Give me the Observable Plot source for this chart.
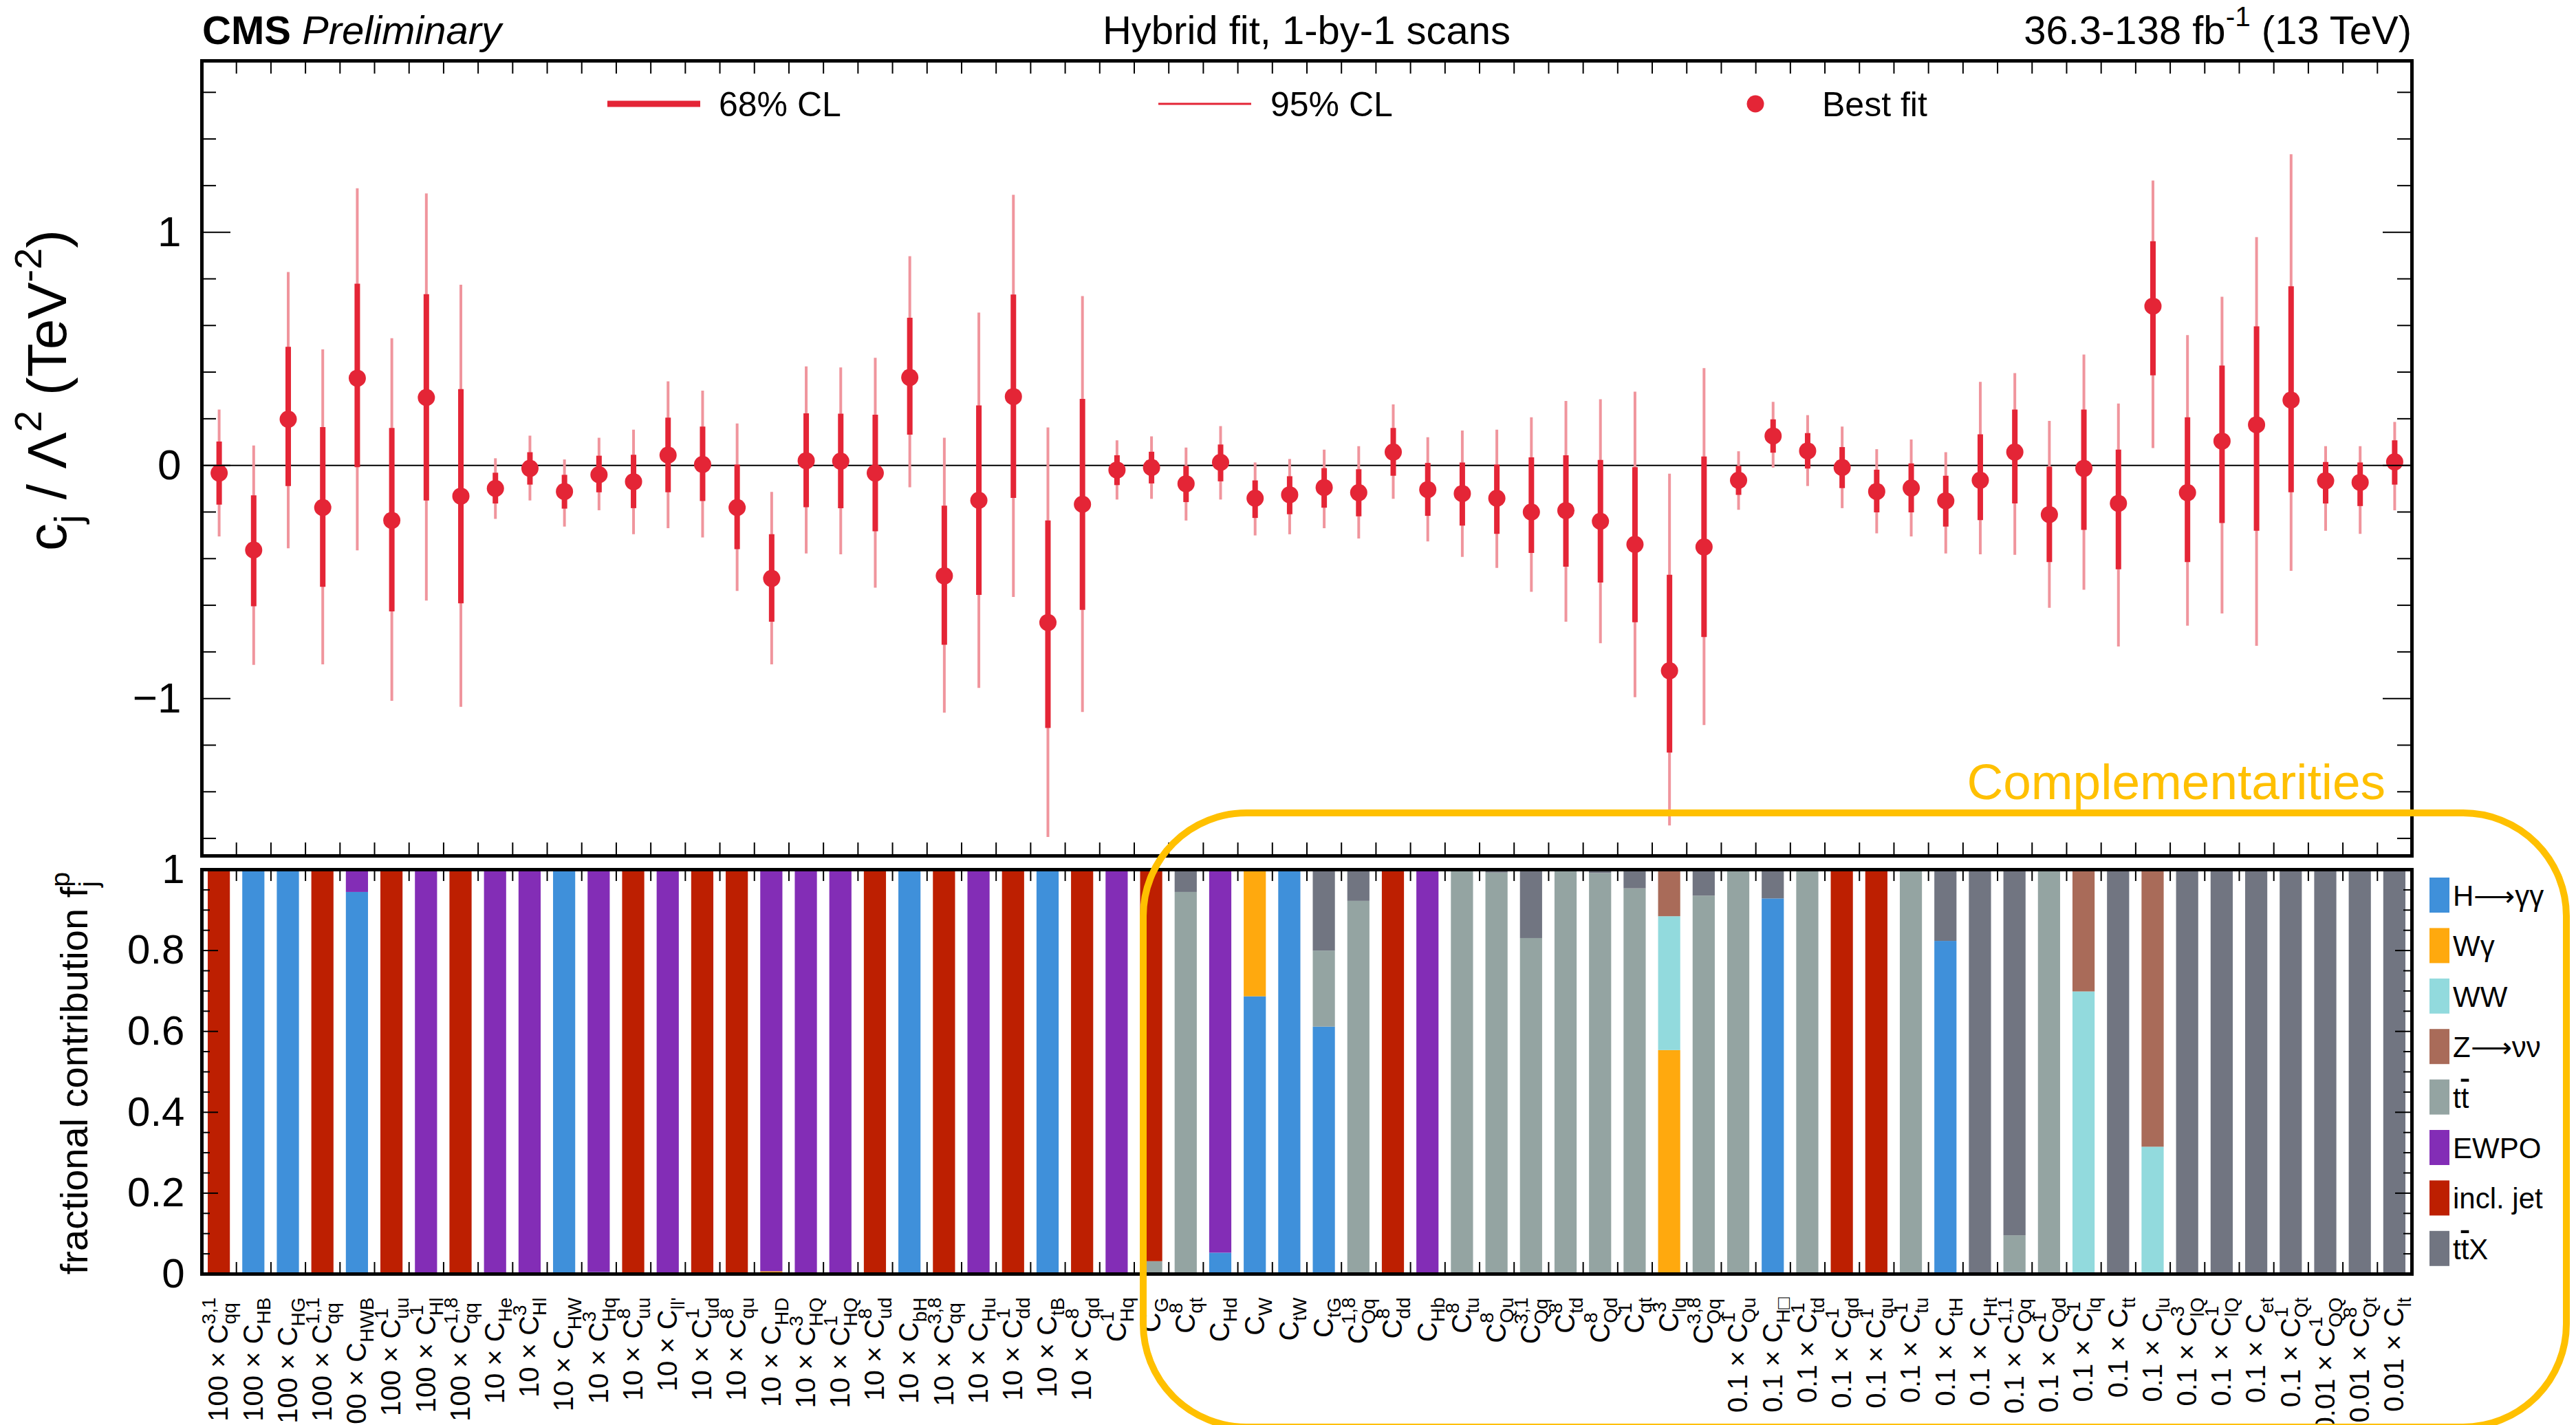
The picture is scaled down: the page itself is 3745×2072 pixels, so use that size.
<!DOCTYPE html>
<html>
<head>
<meta charset="utf-8">
<script src="https://cdn.jsdelivr.net/npm/d3@7"></script>
<script src="https://cdn.jsdelivr.net/npm/@observablehq/plot@0.6"></script>
<style>
  body { margin: 0; background: #fff; }
  #fig { position: relative; width: 3745px; height: 2072px; overflow: hidden; background: #fff; }
  #fig > svg { position: absolute; left: 0; }
</style>
</head>
<body>
<div id="fig"></div>
<script>
// ---- Wilson coefficients (x categories) ----
const scales = ["100","100","100","100","100","100","100","100",
  "10","10","10","10","10","10","10","10","10","10","10","10","10","10","10","10","10","10",
  "","","","","","","","","","","","","","","","","","",
  "0.1","0.1","0.1","0.1","0.1","0.1","0.1","0.1","0.1","0.1","0.1","0.1","0.1","0.1","0.1","0.1","0.1",
  "0.01","0.01","0.01"];
const subs = ["qq","HB","HG","qq","HWB","uu","Hl","qq","He","Hl","HW","Hq","uu","ll'","ud","qu",
  "HD","HQ","HQ","ud","bH","qq","Hu","dd","tB","qd","Hq","G","qt","Hd","W","tW",
  "tG","Qq","dd","Hb","tu","Qu","Qq","td","Qd","qt","lq","Qq","Qu","H\u25A1","td","qd",
  "qu","tu","tH","Ht","Qq","Qd","lq","tt","lu","lQ","lQ","et","Qt","QQ","Qt","lt"];
const sups = ["3,1","","","1,1","","1","1","1,8","","3","","3","8","","1","8",
  "","3","1","8","","3,8","","1","","8","1","","8","","","",
  "","1,8","8","","8","8","3,1","8","8","1","3","3,8","1","","1","1",
  "1","1","","","1,1","1","1","","","3","1","","1","1","8",""];

// ---- best fit and confidence intervals (TeV^-2, scaled) ----
const bestFit = [-0.033,-0.363,0.198,-0.181,0.374,-0.236,0.291,-0.132,-0.099,-0.013,-0.112,-0.040,-0.070,0.044,0.004,-0.181,
  -0.485,0.020,0.018,-0.033,0.377,-0.474,-0.150,0.295,-0.674,-0.167,-0.020,-0.009,-0.079,0.013,-0.141,-0.126,
  -0.095,-0.117,0.057,-0.104,-0.121,-0.141,-0.200,-0.194,-0.240,-0.339,-0.881,-0.350,-0.064,0.126,0.062,-0.009,
  -0.112,-0.097,-0.152,-0.064,0.057,-0.211,-0.013,-0.163,0.683,-0.117,0.104,0.174,0.280,-0.066,-0.073,0.015];
const hi68 = [0.101,-0.130,0.507,0.163,0.778,0.159,0.733,0.326,-0.033,0.055,-0.042,0.040,0.044,0.203,0.165,0.002,
  -0.297,0.222,0.220,0.216,0.632,-0.174,0.256,0.731,-0.238,0.284,0.042,0.057,-0.004,0.088,-0.066,-0.048,
  -0.013,-0.018,0.159,0.009,0.011,0.002,0.033,0.042,0.022,-0.009,-0.471,0.037,-0.004,0.196,0.137,0.077,
  -0.020,0.007,-0.046,0.132,0.238,-0.007,0.238,0.066,0.960,0.205,0.427,0.595,0.767,0.013,0.011,0.106];
const lo68 = [-0.170,-0.606,-0.090,-0.522,-0.009,-0.628,-0.152,-0.593,-0.165,-0.084,-0.187,-0.117,-0.185,-0.117,-0.154,-0.361,
  -0.672,-0.181,-0.185,-0.284,0.130,-0.771,-0.557,-0.141,-1.128,-0.621,-0.086,-0.079,-0.159,-0.070,-0.227,-0.211,
  -0.183,-0.220,-0.046,-0.218,-0.260,-0.295,-0.377,-0.436,-0.504,-0.674,-1.233,-0.738,-0.128,0.053,-0.015,-0.099,
  -0.203,-0.203,-0.264,-0.236,-0.165,-0.416,-0.278,-0.447,0.385,-0.416,-0.249,-0.282,-0.117,-0.165,-0.176,-0.084];
const hi95 = [0.238,0.084,0.828,0.496,1.187,0.544,1.165,0.773,0.029,0.126,0.024,0.117,0.152,0.359,0.319,0.178,
  -0.115,0.423,0.419,0.460,0.896,0.117,0.654,1.159,0.161,0.725,0.106,0.123,0.075,0.167,0.011,0.026,
  0.066,0.081,0.260,0.119,0.148,0.152,0.205,0.275,0.282,0.315,-0.037,0.416,0.059,0.271,0.214,0.165,
  0.068,0.110,0.055,0.357,0.394,0.189,0.474,0.264,1.220,0.557,0.722,0.978,1.333,0.081,0.081,0.185];
const lo95 = [-0.306,-0.857,-0.357,-0.855,-0.366,-1.011,-0.581,-1.037,-0.231,-0.152,-0.264,-0.194,-0.297,-0.271,-0.311,-0.540,
  -0.855,-0.379,-0.383,-0.526,-0.095,-1.062,-0.956,-0.566,-1.595,-1.059,-0.148,-0.145,-0.238,-0.148,-0.302,-0.297,
  -0.271,-0.315,-0.145,-0.328,-0.394,-0.441,-0.544,-0.672,-0.764,-0.996,-1.546,-1.115,-0.192,-0.011,-0.090,-0.185,
  -0.293,-0.306,-0.379,-0.383,-0.385,-0.612,-0.535,-0.778,0.073,-0.689,-0.637,-0.775,-0.454,-0.282,-0.295,-0.194];

// ---- fractional contribution of each measurement ----
const processes = ["H\u2192\u03b3\u03b3","W\u03b3","WW","Z\u2192\u03bd\u03bd","tt\u0304","EWPO","incl. jet","tt\u0304X"];
const processColors = ["#3f90da","#ffa90e","#92dadd","#a96b59","#94a4a2","#832db6","#bd1f01","#717581"];
const fHgg = [0,1,1,0,0.944,0,0,0,0,0,1,0.004,0,0,0,0,
  0,0,0,0,1,0,0,0,1,0,0,0,0,0.052,0.686,1,
  0.611,0,0,0,0,0,0,0,0,0,0,0,0,0.928,0,0,
  0,0.002,0.823,0,0.004,0,0,0,0,0,0,0,0,0,0,0];
const fWg = [0,0,0,0,0,0,0,0,0,0.003,0,0,0,0,0,0,
  0.006,0,0,0,0,0,0,0,0,0,0,0,0,0,0.314,0,
  0,0,0,0,0,0,0,0,0,0,0.553,0,0,0,0,0,
  0,0,0,0,0,0,0,0,0,0,0,0,0,0,0,0];
const fWW = [0,0,0,0,0,0,0,0,0,0,0,0,0,0,0,0,
  0,0,0,0,0,0,0,0,0,0,0,0,0,0,0,0,
  0,0,0,0,0,0,0,0,0,0,0.331,0,0,0,0,0,
  0,0,0,0,0,0,0.698,0,0.314,0,0,0,0,0,0,0];
const fZnn = [0,0,0,0,0,0,0,0,0,0,0,0,0,0,0,0,
  0,0,0,0,0,0,0,0,0,0,0,0,0,0,0,0,
  0,0,0,0,0,0,0,0,0,0,0.116,0,0,0,0,0,
  0,0,0,0,0,0,0.302,0,0.686,0,0,0,0,0,0,0];
const fTT = [0,0,0,0,0,0,0,0,0,0,0,0,0,0,0,0,
  0,0,0,0,0,0,0,0,0,0,0,0.031,0.944,0,0,0,
  0.188,0.922,0,0,1,0.992,0.830,1,0.991,0.953,0,0.935,0.995,0,1,0,
  0,0.998,0,0,0.091,1,0,0,0,0,0,0,0,0,0,0];
const fEWPO = [0,0,0,0,0.056,0,1,0,1,0.997,0,0.996,0,1,0,0,
  0.994,1,1,0,0,0,1,0,0,0,1,0,0,0.948,0,0,
  0,0,0,1,0,0,0,0,0,0,0,0,0,0,0,0,
  0,0,0,0,0,0,0,0,0,0,0,0,0,0,0,0];
const fJet = [1,0,0,1,0,1,0,1,0,0,0,0,1,0,1,1,
  0,0,0,1,0,1,0,1,0,1,0,0.969,0,0,0,0,
  0,0,1,0,0,0,0,0,0,0,0,0,0,0,0,1,
  1,0,0,0,0,0,0,0,0,0,0,0,0,0,0,0];
const fTTX = [0,0,0,0,0,0,0,0,0,0,0,0,0,0,0,0,
  0,0,0,0,0,0,0,0,0,0,0,0,0.056,0,0,0,
  0.201,0.078,0,0,0,0.008,0.170,0,0.009,0.047,0,0.065,0.005,0.072,0,0,
  0,0,0.177,1,0.905,0,0,1,0,1,1,1,1,1,1,1];
const fractions = [fHgg, fWg, fWW, fZnn, fTT, fEWPO, fJet, fTTX];

// ---- layout ----
const W = 3745, H = 2072;
const FONT = '"Liberation Sans", Arial, Helvetica, sans-serif';
const RED = "#e42536", PINK = "#f0959d", GOLD = "#ffc000";
const N = subs.length;
const mL = 293, mR = 239;
const pxX = (W - mL - mR) / N;

const topH = 1250, topMT = 88, topMB = 6;
const Y0 = -1.675, Y1 = 1.735;
const pxYTop = (topH - topMT - topMB) / (Y1 - Y0);

const botTop = 1250, botH = 822, botMT = 14, botMB = 220;
const pxYBot = botH - botMT - botMB;

const rows = d3.range(N).map(i => ({
  x: i + 0.5, v: bestFit[i], lo68: lo68[i], hi68: hi68[i], lo95: lo95[i], hi95: hi95[i]
}));
const boundaries = d3.range(1, N);
const topYTicks = d3.range(-8, 9).map(k => k / 5);
const isInt = d => Math.abs(d - Math.round(d)) < 1e-9;

// ---- upper panel: best fit with 68% / 95% intervals ----
const topChart = Plot.plot({
  width: W, height: topH,
  marginTop: topMT, marginBottom: topMB, marginLeft: mL, marginRight: mR,
  style: {fontFamily: FONT, background: "transparent", overflow: "visible", color: "#000"},
  x: {domain: [0, N], axis: null},
  y: {domain: [Y0, Y1]},
  marks: [
    Plot.ruleY([0], {stroke: "#000", strokeWidth: 2}),
    Plot.ruleX(rows, {x: "x", y1: "lo95", y2: "hi95", stroke: PINK, strokeWidth: 4}),
    Plot.ruleX(rows, {x: "x", y1: "lo68", y2: "hi68", stroke: RED, strokeWidth: 8}),
    Plot.dot(rows, {x: "x", y: "v", r: 12.5, fill: RED}),
    Plot.ruleX(boundaries, {y1: Y1, y2: Y1 - 19 / pxYTop, stroke: "#000", strokeWidth: 2}),
    Plot.ruleX(boundaries, {y1: Y0, y2: Y0 + 19 / pxYTop, stroke: "#000", strokeWidth: 2}),
    Plot.ruleY(topYTicks, {x1: 0, x2: d => (isInt(d) ? 42 : 21) / pxX, stroke: "#000", strokeWidth: 2}),
    Plot.ruleY(topYTicks, {x1: N, x2: d => N - (isInt(d) ? 42 : 21) / pxX, stroke: "#000", strokeWidth: 2}),
    Plot.axisY({ticks: [-1, 0, 1], tickSize: 0, tickPadding: 30, fontSize: 62, label: null,
      tickFormat: d => d < 0 ? "\u2212" + Math.abs(d) : String(d)}),
    Plot.frame({stroke: "#000", strokeWidth: 5})
  ]
});
topChart.style.top = "0px";

// ---- lower panel: stacked fractional contributions ----
const fracRows = [];
fractions.forEach((arr, p) => arr.forEach((f, i) => {
  if (f > 0) fracRows.push({i, i1: i + 1, proc: processes[p], f});
}));
const labelRows = d3.range(N).map(i => ({
  x: i + 0.5, base: scales[i] ? scales[i] + " \u00d7 C" : "C", sub: subs[i], sup: sups[i]
}));
const botYTicks = d3.range(0, 21).map(k => k / 20);
const isMajor = d => Math.abs(d * 5 - Math.round(d * 5)) < 1e-9;

const botChart = Plot.plot({
  width: W, height: botH,
  marginTop: botMT, marginBottom: botMB, marginLeft: mL, marginRight: mR,
  style: {fontFamily: FONT, background: "transparent", overflow: "visible", color: "#000"},
  x: {domain: [0, N], axis: null},
  y: {domain: [0, 1]},
  color: {domain: processes, range: processColors},
  marks: [
    Plot.rectY(fracRows, {x1: "i", x2: "i1", y: "f", fill: "proc", order: processes,
      insetLeft: 9, insetRight: 9}),
    Plot.ruleX(boundaries, {y1: 1, y2: 1 - 17 / pxYBot, stroke: "#000", strokeWidth: 2}),
    Plot.ruleX(boundaries, {y1: 0, y2: 17 / pxYBot, stroke: "#000", strokeWidth: 2}),
    Plot.ruleY(botYTicks, {x1: 0, x2: d => (isMajor(d) ? 24 : 12) / pxX, stroke: "#000", strokeWidth: 2}),
    Plot.ruleY(botYTicks, {x1: N, x2: d => N - (isMajor(d) ? 24 : 12) / pxX, stroke: "#000", strokeWidth: 2}),
    Plot.axisY({ticks: [0, 0.2, 0.4, 0.6, 0.8, 1], tickSize: 0, tickPadding: 25, fontSize: 60, label: null,
      tickFormat: d => String(+d.toFixed(1))}),
    Plot.text(labelRows, {x: "x", text: "base", frameAnchor: "bottom", dy: 34, rotate: -90,
      textAnchor: "end", lineAnchor: "middle", fontSize: 40, fill: "#000"}),
    Plot.frame({stroke: "#000", strokeWidth: 5})
  ]
});
botChart.style.top = botTop + "px";

const fig = document.getElementById("fig");
fig.append(topChart, botChart);

// subscripts / superscripts on the coefficient names, stacked like C^{a}_{b}
const NS = "http://www.w3.org/2000/svg";
function addScripts(textEl, sub, sup, fs) {
  const small = fs * 0.7, subOff = fs * 0.28, supOff = -fs * 0.45;
  const mk = (s, dy, dx) => {
    const t = document.createElementNS(NS, "tspan");
    t.textContent = s;
    t.setAttribute("font-size", small);
    t.setAttribute("dy", dy);
    if (dx) t.setAttribute("dx", dx);
    textEl.appendChild(t);
    return t;
  };
  if (sub && !sup) { mk(sub, subOff); return; }
  if (sup && !sub) { mk(sup, supOff); return; }
  const a = mk(sub, subOff); const wSub = a.getComputedTextLength(); a.remove();
  const b = mk(sup, supOff); const wSup = b.getComputedTextLength(); b.remove();
  if (wSub <= wSup) { mk(sub, subOff); mk(sup, supOff - subOff, -wSub); }
  else { mk(sup, supOff); mk(sub, subOff - supOff, -wSup); }
}
const labelTexts = botChart.querySelectorAll('g[aria-label="text"] text');
labelTexts.forEach((el, i) => addScripts(el, labelRows[i].sub, labelRows[i].sup, 40));

// ---- annotations: header, legends, axis titles, complementarity box ----
const ov = d3.select(fig).append("svg")
  .attr("width", W).attr("height", H)
  .style("top", "0px").style("font-family", FONT);

function rich(sel, parts, fs) {
  let shift = 0;
  for (const p of parts) {
    const target = p.k === "sub" ? 0.28 * fs : p.k === "sup" ? -0.45 * fs : 0;
    const ts = sel.append("tspan").text(p.t).attr("dy", target - shift);
    if (p.k === "sub" || p.k === "sup") ts.attr("font-size", 0.7 * fs);
    if (p.weight) ts.attr("font-weight", p.weight);
    if (p.italic) ts.attr("font-style", "italic");
    if (p.over) ts.style("text-decoration", "overline");
    shift = target;
  }
  return sel;
}

// header
const head = ov.append("g").attr("font-size", 58).attr("fill", "#000");
rich(head.append("text").attr("x", 294).attr("y", 64),
  [{t: "CMS", weight: "bold"}, {t: " Preliminary", italic: true}], 58);
head.append("text").attr("x", (mL + W - mR) / 2).attr("y", 64).attr("text-anchor", "middle")
  .text("Hybrid fit, 1-by-1 scans");
rich(head.append("text").attr("x", W - mR).attr("y", 64).attr("text-anchor", "end"),
  [{t: "36.3-138 fb"}, {t: "-1", k: "sup"}, {t: " (13 TeV)"}], 58);

// upper-panel legend
const lg = ov.append("g").attr("font-size", 50).attr("fill", "#000");
lg.append("line").attr("x1", 883).attr("x2", 1018).attr("y1", 151).attr("y2", 151)
  .attr("stroke", RED).attr("stroke-width", 9);
lg.append("text").attr("x", 1045).attr("y", 169).text("68% CL");
lg.append("line").attr("x1", 1684).attr("x2", 1819).attr("y1", 151).attr("y2", 151)
  .attr("stroke", RED).attr("stroke-width", 3);
lg.append("text").attr("x", 1847).attr("y", 169).text("95% CL");
lg.append("circle").attr("cx", 2552).attr("cy", 151).attr("r", 12.5).attr("fill", RED);
lg.append("text").attr("x", 2649).attr("y", 169).text("Best fit");

// axis titles
rich(ov.append("text").attr("transform", "translate(96,334) rotate(-90)")
  .attr("text-anchor", "end").attr("font-size", 80).attr("dy", "0.35em"),
  [{t: "c"}, {t: "j", k: "sub"}, {t: " / \u039b"}, {t: "2", k: "sup"}, {t: " (TeV"}, {t: "-2", k: "sup"}, {t: ")"}], 80);
const fTitle = ov.append("text").attr("transform", "translate(107,1268) rotate(-90)")
  .attr("text-anchor", "end").attr("font-size", 56).attr("dy", "0.35em").text("fractional contribution f");
addScripts(fTitle.node(), "j", "p", 56);

// lower-panel legend
const lb = ov.append("g").attr("font-size", 42).attr("fill", "#000");
const legendParts = [
  [{t: "H\u27f6\u03b3\u03b3"}],
  [{t: "W\u03b3"}],
  [{t: "WW"}],
  [{t: "Z\u27f6\u03bd\u03bd"}],
  [{t: "t"}, {t: "t", over: true}],
  [{t: "EWPO"}],
  [{t: "incl. jet"}],
  [{t: "t"}, {t: "t", over: true}, {t: "X"}]
];
processes.forEach((p, k) => {
  const y = 1276 + k * 73.4;
  lb.append("rect").attr("x", 3532).attr("y", y).attr("width", 29).attr("height", 51)
    .attr("fill", processColors[k]);
  rich(lb.append("text").attr("x", 3566).attr("y", y + 41), legendParts[k], 42);
});

// complementarity box
ov.append("rect").attr("x", 1662).attr("y", 1182).attr("width", 3731 - 1662).attr("height", 2075 - 1182)
  .attr("rx", 150).attr("ry", 150).attr("fill", "none").attr("stroke", GOLD).attr("stroke-width", 10);
ov.append("text").attr("x", 3468).attr("y", 1162).attr("text-anchor", "end")
  .attr("font-size", 73).attr("fill", GOLD).text("Complementarities");
</script>
</body>
</html>
